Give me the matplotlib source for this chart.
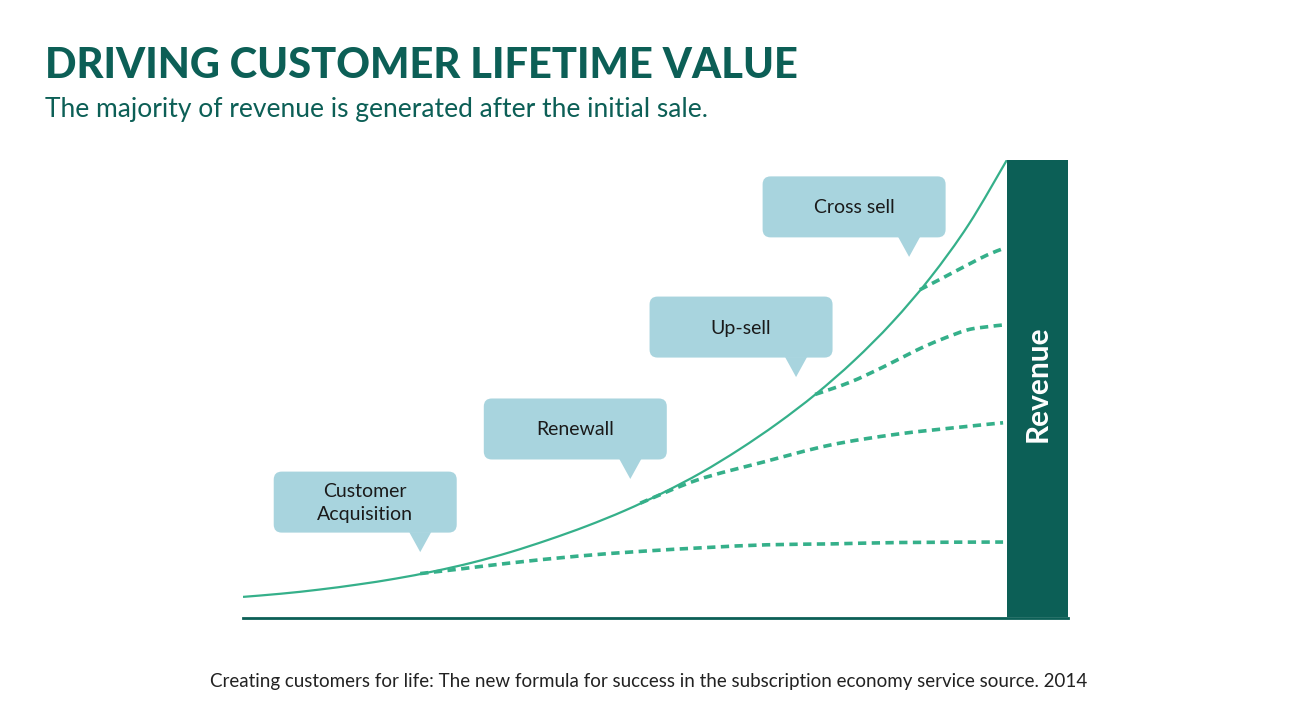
import matplotlib
matplotlib.use('Agg')
import matplotlib.pyplot as plt
from matplotlib.patches import FancyBboxPatch, Polygon, PathPatch
from matplotlib.path import Path

# main revenue curve (time 0-100, revenue index 0-100)
tiempo = [0, 5, 10, 15, 20, 25, 30, 35, 40, 45, 50, 55, 60, 65, 70, 75, 80,
          85, 90, 95, 100]
ingreso = [4.4, 5.1, 6.0, 7.1, 8.4, 10.0, 11.9, 14.2, 16.9, 19.9, 23.3, 27.2,
           31.6, 36.7, 42.4, 48.8, 56.1, 64.5, 74.3, 85.9, 100]

# plateau lines (dashed), one per stage
adq_x = [23.2, 28.4, 34.9, 43.7, 52.4, 60.7, 68.6, 77.2, 86.0, 99.5]
adq_y = [9.5, 10.5, 11.8, 13.3, 14.4, 15.2, 15.8, 16.0, 16.3, 16.4]
ren_x = [52.0, 59.5, 68.1, 76.8, 85.6, 94.2, 99.5]
ren_y = [24.9, 30.0, 33.9, 37.6, 40.0, 41.6, 42.5]
up_x = [74.9, 79.5, 83.8, 88.2, 91.2, 94.8, 97.4, 99.5]
up_y = [48.7, 51.4, 54.7, 58.4, 60.6, 62.8, 63.5, 63.9]
cross_x = [88.6, 91.6, 94.8, 97.4, 99.5]
cross_y = [71.6, 74.2, 77.0, 79.2, 80.6]

etapas = ['Customer\nAcquisition', 'Renewall', 'Up-sell', 'Cross sell']
etapas_x = [23.2, 50.7, 72.4, 87.2]
etapas_y = [14.2, 30.2, 52.5, 78.8]

verde = '#35b08a'
oscuro = '#0c5f56'
celeste = '#a8d4de'


def curva_suave(xs, ys):
    # catmull-rom through the points, drawn as cubic bezier segments
    pts = list(zip(xs, ys))
    verts = [pts[0]]
    codes = [Path.MOVETO]
    for i in range(len(pts) - 1):
        p0 = pts[i - 1] if i > 0 else pts[i]
        p1, p2 = pts[i], pts[i + 1]
        p3 = pts[i + 2] if i + 2 < len(pts) else pts[i + 1]
        c1 = (p1[0] + (p2[0] - p0[0]) / 6, p1[1] + (p2[1] - p0[1]) / 6)
        c2 = (p2[0] - (p3[0] - p1[0]) / 6, p2[1] - (p3[1] - p1[1]) / 6)
        verts += [c1, c2, p2]
        codes += [Path.CURVE4] * 3
    return Path(verts, codes)


fig = plt.figure(figsize=(13, 7.1), dpi=100)
fig.patch.set_facecolor('white')

ax = fig.add_axes([243 / 1300, 93 / 710, 825 / 1300, 457 / 710])
ax.set_xlim(0, 108)
ax.set_ylim(0, 100)
ax.axis('off')

ax.add_patch(PathPatch(curva_suave(tiempo, ingreso), fc='none', ec=verde,
                       lw=1.6, zorder=3))
for xs, ys in [(adq_x, adq_y), (ren_x, ren_y), (up_x, up_y), (cross_x, cross_y)]:
    ax.add_patch(PathPatch(curva_suave(xs, ys), fc='none', ec=verde, lw=2.6,
                           linestyle=(0, (2.3, 1.5)), zorder=2))

# revenue bar + baseline
ax.bar(104, 100, width=8, color=oscuro, zorder=4)
ax.text(104, 51, 'Revenue', rotation=90, color='white', fontsize=21.5,
        fontweight='bold', family='Lato', ha='center', va='center', zorder=5)
ax.plot([0, 108], [-0.2, -0.2], color=oscuro, lw=2, clip_on=False)

# callouts drawn in pixel space
over = fig.add_axes([0, 0, 1, 1], zorder=10)
over.set_xlim(0, 1300)
over.set_ylim(0, 710)
over.axis('off')
over.patch.set_alpha(0)
fig.canvas.draw()
for txt, ex, ey in zip(etapas, etapas_x, etapas_y):
    tx, ty = ax.transData.transform((ex, ey))
    cx, cy = tx - 55, ty + 50
    caja = FancyBboxPatch((cx - 83, cy - 22), 166, 44,
                          boxstyle='round,pad=8.5,rounding_size=8',
                          fc=celeste, ec='none')
    over.add_patch(caja)
    over.add_patch(Polygon([(tx - 11, ty + 20), (tx + 11, ty + 20), (tx, ty)],
                           closed=True, fc=celeste, ec='none'))
    over.text(cx, cy - 1, txt, ha='center', va='center', fontsize=14,
              family='Lato', color='#1a1a1a', linespacing=1.4)

fig.text(45 / 1300, 1 - 66 / 710, 'DRIVING CUSTOMER LIFETIME VALUE',
         fontsize=30, fontweight='black', family='Lato', color=oscuro,
         va='center', ha='left')
fig.text(45 / 1300, 1 - 110 / 710,
         'The majority of revenue is generated after the initial sale.',
         fontsize=19, family='Lato', color=oscuro, va='center', ha='left')
fig.text(649 / 1300, 1 - 682 / 710,
         'Creating customers for life: The new formula for success in the '
         'subscription economy service source. 2014',
         fontsize=13.5, family='Lato', color='#222222', va='center', ha='center')

fig.savefig('out.png', dpi=100)
